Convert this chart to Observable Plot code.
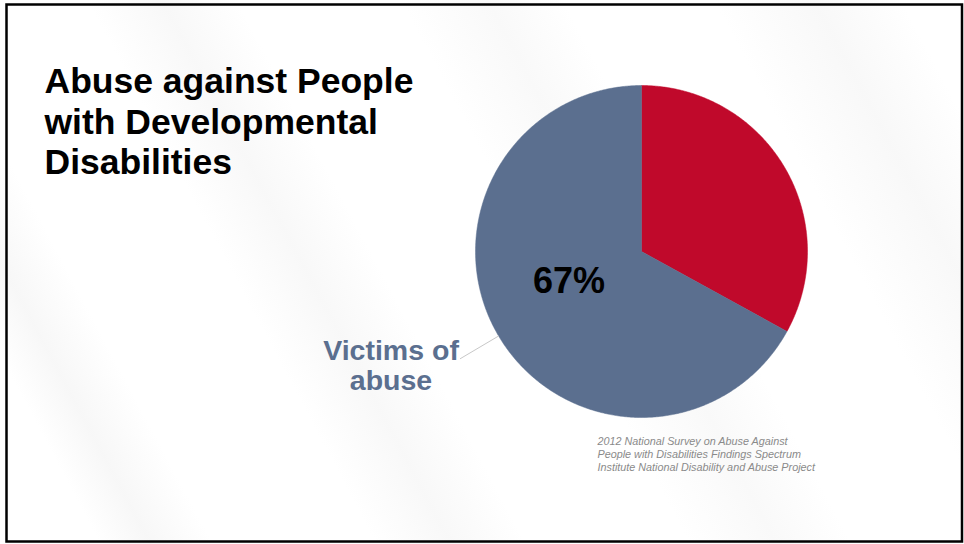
<!DOCTYPE html>
<html>
<head>
<meta charset="utf-8">
<script src="https://cdn.jsdelivr.net/npm/d3@7"></script>
<script src="https://cdn.jsdelivr.net/npm/@observablehq/plot@0.6"></script>
<style>
  html, body { margin: 0; padding: 0; }
  body {
    width: 964px; height: 544px; overflow: hidden;
    background:
      linear-gradient(62deg, rgba(0,0,0,0) 0%, rgba(0,0,0,0) 8%, rgba(238,238,238,0.45) 12%, rgba(0,0,0,0) 17%,
        rgba(0,0,0,0) 30%, rgba(238,238,238,0.4) 36%, rgba(0,0,0,0) 42%,
        rgba(0,0,0,0) 55%, rgba(238,238,238,0.35) 62%, rgba(0,0,0,0) 68%,
        rgba(0,0,0,0) 80%, rgba(238,238,238,0.4) 88%, rgba(0,0,0,0) 95%),
      #ffffff;
  }
  #chart svg { display: block; }
</style>
</head>
<body>
<div id="chart"></div>
<script>
// ---- data ----
const categories = ["Not victims of abuse", "Victims of abuse"];
const values = [33, 67];
const colors = ["#c0092b", "#5b6f8f"];
const valueLabels = ["33%", "67%"];
const titleText = "Abuse against People\nwith Developmental\nDisabilities";
const sourceText = "2012 National Survey on Abuse Against\nPeople with Disabilities Findings Spectrum\nInstitute National Disability and Abuse Project";

// ---- geometry derived from values (clockwise from 12 o'clock) ----
const pie = d3.pie().sort(null).value(d => d.value);
const table = categories.map((c, i) => ({category: c, value: values[i], label: valueLabels[i]}));
const arcs = pie(table);

const slicePts = [];
for (const a of arcs) {
  slicePts.push({category: a.data.category, x: 0, y: 0});
  const n = Math.max(2, Math.ceil((a.endAngle - a.startAngle) / (Math.PI / 360)));
  for (let k = 0; k <= n; k++) {
    const t = a.startAngle + (a.endAngle - a.startAngle) * k / n;
    slicePts.push({category: a.data.category, x: Math.sin(t), y: Math.cos(t)});
  }
  slicePts.push({category: a.data.category, x: 0, y: 0});
}
const mid = a => (a.startAngle + a.endAngle) / 2;
const blue = arcs[1];
const inner = [{x: 0.5 * Math.sin(mid(blue)), y: 0.5 * Math.cos(mid(blue)), label: blue.data.label}];
const leader = [{
  x1: 1.0 * Math.sin(mid(blue)), y1: 1.0 * Math.cos(mid(blue)),
  x2: 1.27 * Math.sin(mid(blue)), y2: 1.27 * Math.cos(mid(blue)),
  label: "Victims of\nabuse"
}];

const cx = 641, cy = 251, r = 166;
const font = "Liberation Sans, Arial, Helvetica, sans-serif";

const chart = Plot.plot({
  width: 964,
  height: 544,
  margin: 0,
  style: {background: "transparent", fontFamily: font},
  x: {domain: [-1, 1], range: [cx - r, cx + r], axis: null},
  y: {domain: [-1, 1], range: [cy + r, cy - r], axis: null},
  color: {domain: categories, range: colors},
  marks: [
    Plot.frame({stroke: "#000", strokeWidth: 2.5, insetLeft: 6, insetTop: 4, insetRight: 2.5, insetBottom: 3}),
    Plot.line(slicePts, {x: "x", y: "y", z: "category", fill: "category", stroke: "category", strokeWidth: 0.5, curve: "linear"}),
    Plot.text(inner, {x: "x", y: "y", text: "label", dx: -1, dy: -12, fontSize: 36, fontWeight: "bold", fill: "#000", fontFamily: font}),
    Plot.link(leader, {x1: "x1", y1: "y1", x2: "x2", y2: "y2", stroke: "#c8c8c8", strokeWidth: 1}),
    Plot.text(leader, {x: "x2", y: "y2", text: "label", textAnchor: "middle", lineAnchor: "middle", dx: -69, dy: 7,
      lineHeight: 1.05, fontSize: 28.5, fontWeight: "bold", fill: "#5b6f8f", fontFamily: font}),
    Plot.text([titleText], {frameAnchor: "top-left", text: d => d, textAnchor: "start", lineAnchor: "top",
      dx: 44, dy: 64, lineHeight: 1.14, fontSize: 35.5, fontWeight: "bold", fill: "#000", fontFamily: font}),
    Plot.text([sourceText], {frameAnchor: "top-left", text: d => d, textAnchor: "start", lineAnchor: "top",
      dx: 597, dy: 436, lineHeight: 1.17, fontSize: 10.8, fontStyle: "italic", fill: "#8a8a8a", fontFamily: font})
  ]
});
document.getElementById("chart").appendChild(chart);
</script>
</body>
</html>
